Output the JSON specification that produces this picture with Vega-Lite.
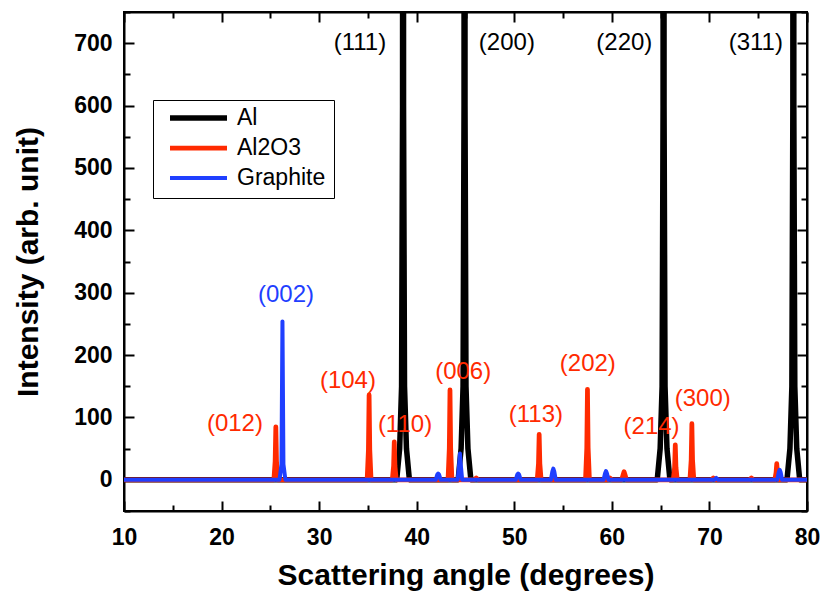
{
  "$schema": "https://vega.github.io/schema/vega-lite/v6.json",
  "width": 683,
  "height": 499,
  "autosize": {"type": "none"},
  "padding": {"left": 124, "top": 12, "right": 15, "bottom": 89},
  "background": "white",
  "config": {
    "view": {"stroke": "black", "strokeWidth": 2},
    "axis": {
      "grid": false,
      "domainColor": "black",
      "domainWidth": 2,
      "tickColor": "black",
      "tickWidth": 2,
      "labelFont": "Liberation Sans",
      "labelFontWeight": "bold",
      "labelFontSize": 23,
      "labelColor": "black",
      "labelOverlap": false,
      "labelFlush": false,
      "titleFont": "Liberation Sans",
      "titleFontWeight": "bold",
      "titleFontSize": 30,
      "titleColor": "black"
    },
    "legend": {
      "orient": "none",
      "legendX": 29,
      "legendY": 88,
      "strokeColor": "black",
      "strokeWidth": 1,
      "fillColor": "white",
      "padding": 8,
      "symbolType": "stroke",
      "symbolSize": 3249,
      "symbolStrokeWidth": 4,
      "symbolOffset": 6,
      "labelOffset": 7,
      "labelFont": "Liberation Sans",
      "labelFontSize": 23,
      "labelColor": "black",
      "clipHeight": 20,
      "rowPadding": 7
    }
  },
  "datasets": {
    "xrd": [
      {"series": "Al", "angle": 10, "intensity": 0},
      {"series": "Al", "angle": 37.95, "intensity": 0},
      {"series": "Al", "angle": 38.25, "intensity": 50},
      {"series": "Al", "angle": 38.45, "intensity": 150},
      {"series": "Al", "angle": 38.55, "intensity": 600},
      {"series": "Al", "angle": 38.6, "intensity": 5000},
      {"series": "Al", "angle": 38.65, "intensity": 600},
      {"series": "Al", "angle": 38.75, "intensity": 150},
      {"series": "Al", "angle": 38.95, "intensity": 50},
      {"series": "Al", "angle": 39.25, "intensity": 0},
      {"series": "Al", "angle": 44.25, "intensity": 0},
      {"series": "Al", "angle": 44.55, "intensity": 50},
      {"series": "Al", "angle": 44.75, "intensity": 150},
      {"series": "Al", "angle": 44.85, "intensity": 600},
      {"series": "Al", "angle": 44.9, "intensity": 5000},
      {"series": "Al", "angle": 44.95, "intensity": 600},
      {"series": "Al", "angle": 45.05, "intensity": 150},
      {"series": "Al", "angle": 45.25, "intensity": 50},
      {"series": "Al", "angle": 45.55, "intensity": 0},
      {"series": "Al", "angle": 64.65, "intensity": 0},
      {"series": "Al", "angle": 64.95, "intensity": 50},
      {"series": "Al", "angle": 65.15, "intensity": 150},
      {"series": "Al", "angle": 65.25, "intensity": 600},
      {"series": "Al", "angle": 65.3, "intensity": 5000},
      {"series": "Al", "angle": 65.35, "intensity": 600},
      {"series": "Al", "angle": 65.45, "intensity": 150},
      {"series": "Al", "angle": 65.65, "intensity": 50},
      {"series": "Al", "angle": 65.95, "intensity": 0},
      {"series": "Al", "angle": 77.95, "intensity": 0},
      {"series": "Al", "angle": 78.25, "intensity": 50},
      {"series": "Al", "angle": 78.45, "intensity": 150},
      {"series": "Al", "angle": 78.55, "intensity": 600},
      {"series": "Al", "angle": 78.6, "intensity": 5000},
      {"series": "Al", "angle": 78.65, "intensity": 600},
      {"series": "Al", "angle": 78.75, "intensity": 150},
      {"series": "Al", "angle": 78.95, "intensity": 50},
      {"series": "Al", "angle": 79.25, "intensity": 0},
      {"series": "Al", "angle": 80, "intensity": 0},

      {"series": "Al2O3", "angle": 10, "intensity": 0},
      {"series": "Al2O3", "angle": 25.36, "intensity": 0},
      {"series": "Al2O3", "angle": 25.49, "intensity": 30},
      {"series": "Al2O3", "angle": 25.56, "intensity": 85},
      {"series": "Al2O3", "angle": 25.63, "intensity": 30},
      {"series": "Al2O3", "angle": 25.76, "intensity": 0},
      {"series": "Al2O3", "angle": 34.92, "intensity": 0},
      {"series": "Al2O3", "angle": 35.05, "intensity": 48},
      {"series": "Al2O3", "angle": 35.12, "intensity": 136},
      {"series": "Al2O3", "angle": 35.19, "intensity": 48},
      {"series": "Al2O3", "angle": 35.32, "intensity": 0},
      {"series": "Al2O3", "angle": 37.5, "intensity": 0},
      {"series": "Al2O3", "angle": 37.63, "intensity": 22},
      {"series": "Al2O3", "angle": 37.7, "intensity": 61},
      {"series": "Al2O3", "angle": 37.77, "intensity": 22},
      {"series": "Al2O3", "angle": 37.9, "intensity": 0},
      {"series": "Al2O3", "angle": 43.21, "intensity": 0},
      {"series": "Al2O3", "angle": 43.34, "intensity": 51},
      {"series": "Al2O3", "angle": 43.41, "intensity": 144},
      {"series": "Al2O3", "angle": 43.48, "intensity": 51},
      {"series": "Al2O3", "angle": 43.61, "intensity": 0},
      {"series": "Al2O3", "angle": 45.9, "intensity": 0},
      {"series": "Al2O3", "angle": 46.1, "intensity": 3},
      {"series": "Al2O3", "angle": 46.3, "intensity": 0},
      {"series": "Al2O3", "angle": 52.35, "intensity": 0},
      {"series": "Al2O3", "angle": 52.48, "intensity": 26},
      {"series": "Al2O3", "angle": 52.55, "intensity": 73},
      {"series": "Al2O3", "angle": 52.62, "intensity": 26},
      {"series": "Al2O3", "angle": 52.75, "intensity": 0},
      {"series": "Al2O3", "angle": 57.3, "intensity": 0},
      {"series": "Al2O3", "angle": 57.43, "intensity": 51},
      {"series": "Al2O3", "angle": 57.5, "intensity": 145},
      {"series": "Al2O3", "angle": 57.57, "intensity": 51},
      {"series": "Al2O3", "angle": 57.7, "intensity": 0},
      {"series": "Al2O3", "angle": 59.6, "intensity": 0},
      {"series": "Al2O3", "angle": 59.8, "intensity": 3},
      {"series": "Al2O3", "angle": 60.0, "intensity": 0},
      {"series": "Al2O3", "angle": 61.0, "intensity": 0},
      {"series": "Al2O3", "angle": 61.15, "intensity": 8},
      {"series": "Al2O3", "angle": 61.25, "intensity": 13},
      {"series": "Al2O3", "angle": 61.35, "intensity": 8},
      {"series": "Al2O3", "angle": 61.5, "intensity": 0},
      {"series": "Al2O3", "angle": 66.3, "intensity": 0},
      {"series": "Al2O3", "angle": 66.43, "intensity": 20},
      {"series": "Al2O3", "angle": 66.5, "intensity": 56},
      {"series": "Al2O3", "angle": 66.57, "intensity": 20},
      {"series": "Al2O3", "angle": 66.7, "intensity": 0},
      {"series": "Al2O3", "angle": 68.0, "intensity": 0},
      {"series": "Al2O3", "angle": 68.13, "intensity": 32},
      {"series": "Al2O3", "angle": 68.2, "intensity": 90},
      {"series": "Al2O3", "angle": 68.27, "intensity": 32},
      {"series": "Al2O3", "angle": 68.4, "intensity": 0},
      {"series": "Al2O3", "angle": 70.2, "intensity": 0},
      {"series": "Al2O3", "angle": 70.4, "intensity": 3},
      {"series": "Al2O3", "angle": 70.6, "intensity": 0},
      {"series": "Al2O3", "angle": 74.1, "intensity": 0},
      {"series": "Al2O3", "angle": 74.3, "intensity": 3},
      {"series": "Al2O3", "angle": 74.5, "intensity": 0},
      {"series": "Al2O3", "angle": 76.7, "intensity": 0},
      {"series": "Al2O3", "angle": 76.83, "intensity": 12},
      {"series": "Al2O3", "angle": 76.9, "intensity": 26},
      {"series": "Al2O3", "angle": 76.97, "intensity": 12},
      {"series": "Al2O3", "angle": 77.1, "intensity": 0},
      {"series": "Al2O3", "angle": 80, "intensity": 0},

      {"series": "Graphite", "angle": 10, "intensity": 0},
      {"series": "Graphite", "angle": 25.94, "intensity": 0},
      {"series": "Graphite", "angle": 26.14, "intensity": 25},
      {"series": "Graphite", "angle": 26.24, "intensity": 254},
      {"series": "Graphite", "angle": 26.34, "intensity": 25},
      {"series": "Graphite", "angle": 26.54, "intensity": 0},
      {"series": "Graphite", "angle": 41.95, "intensity": 0},
      {"series": "Graphite", "angle": 42.1, "intensity": 8},
      {"series": "Graphite", "angle": 42.2, "intensity": 10},
      {"series": "Graphite", "angle": 42.3, "intensity": 8},
      {"series": "Graphite", "angle": 42.45, "intensity": 0},
      {"series": "Graphite", "angle": 44.2, "intensity": 0},
      {"series": "Graphite", "angle": 44.35, "intensity": 25},
      {"series": "Graphite", "angle": 44.43, "intensity": 42},
      {"series": "Graphite", "angle": 44.51, "intensity": 25},
      {"series": "Graphite", "angle": 44.66, "intensity": 0},
      {"series": "Graphite", "angle": 50.15, "intensity": 0},
      {"series": "Graphite", "angle": 50.3, "intensity": 8},
      {"series": "Graphite", "angle": 50.4, "intensity": 10},
      {"series": "Graphite", "angle": 50.5, "intensity": 8},
      {"series": "Graphite", "angle": 50.65, "intensity": 0},
      {"series": "Graphite", "angle": 53.75, "intensity": 0},
      {"series": "Graphite", "angle": 53.9, "intensity": 13},
      {"series": "Graphite", "angle": 54.0, "intensity": 18},
      {"series": "Graphite", "angle": 54.1, "intensity": 13},
      {"series": "Graphite", "angle": 54.25, "intensity": 0},
      {"series": "Graphite", "angle": 59.15, "intensity": 0},
      {"series": "Graphite", "angle": 59.3, "intensity": 10},
      {"series": "Graphite", "angle": 59.4, "intensity": 14},
      {"series": "Graphite", "angle": 59.5, "intensity": 10},
      {"series": "Graphite", "angle": 59.65, "intensity": 0},
      {"series": "Graphite", "angle": 70.5, "intensity": 0},
      {"series": "Graphite", "angle": 70.7, "intensity": 3},
      {"series": "Graphite", "angle": 70.9, "intensity": 0},
      {"series": "Graphite", "angle": 76.95, "intensity": 0},
      {"series": "Graphite", "angle": 77.1, "intensity": 12},
      {"series": "Graphite", "angle": 77.2, "intensity": 16},
      {"series": "Graphite", "angle": 77.3, "intensity": 12},
      {"series": "Graphite", "angle": 77.45, "intensity": 0},
      {"series": "Graphite", "angle": 80, "intensity": 0}
    ],
    "peaks": [
      {"series": "Al", "label": "(111)", "angle": 34.18, "intensity": 700},
      {"series": "Al", "label": "(200)", "angle": 49.24, "intensity": 700},
      {"series": "Al", "label": "(220)", "angle": 61.28, "intensity": 700},
      {"series": "Al", "label": "(311)", "angle": 74.75, "intensity": 700},
      {"series": "Graphite", "label": "(002)", "angle": 26.6, "intensity": 296},
      {"series": "Al2O3", "label": "(012)", "angle": 21.37, "intensity": 90},
      {"series": "Al2O3", "label": "(104)", "angle": 32.95, "intensity": 158},
      {"series": "Al2O3", "label": "(110)", "angle": 38.8, "intensity": 88},
      {"series": "Al2O3", "label": "(006)", "angle": 44.76, "intensity": 173},
      {"series": "Al2O3", "label": "(113)", "angle": 52.21, "intensity": 104},
      {"series": "Al2O3", "label": "(202)", "angle": 57.54, "intensity": 185},
      {"series": "Al2O3", "label": "(214)", "angle": 64.07, "intensity": 84},
      {"series": "Al2O3", "label": "(300)", "angle": 69.32, "intensity": 129}
    ]
  },
  "layer": [
    {
      "data": {"name": "xrd"},
      "mark": {"type": "line", "clip": true, "strokeJoin": "round"},
      "encoding": {
        "x": {
          "field": "angle",
          "type": "quantitative",
          "scale": {"domain": [10, 80], "nice": false, "zero": false},
          "axis": {
            "orient": "bottom",
            "title": "Scattering angle (degrees)",
            "values": [10, 15, 20, 25, 30, 35, 40, 45, 50, 55, 60, 65, 70, 75, 80],
            "labelExpr": "datum.value % 10 === 0 ? datum.label : ''",
            "tickSize": {"condition": {"test": "datum.value % 10 === 0", "value": -10}, "value": -6},
            "labelPadding": 25,
            "titleX": 341.5,
            "titleY": 64,
            "titleBaseline": "middle"
          }
        },
        "y": {
          "field": "intensity",
          "type": "quantitative",
          "scale": {"domain": [-50, 750], "nice": false, "zero": false},
          "axis": {
            "orient": "left",
            "title": "Intensity (arb. unit)",
            "values": [-50, 0, 50, 100, 150, 200, 250, 300, 350, 400, 450, 500, 550, 600, 650, 700, 750],
            "labelExpr": "datum.value % 100 === 0 && datum.value >= 0 ? datum.label : ''",
            "tickSize": {"condition": {"test": "datum.value % 100 === 0", "value": -10}, "value": -6},
            "labelPadding": 22,
            "titleX": -96,
            "titleBaseline": "middle"
          }
        },
        "color": {
          "field": "series",
          "type": "nominal",
          "scale": {"domain": ["Al", "Al2O3", "Graphite"], "range": ["#000000", "#FF2A00", "#1F3FFF"]},
          "legend": {"title": null}
        },
        "strokeWidth": {
          "field": "series",
          "type": "nominal",
          "scale": {"domain": ["Al", "Al2O3", "Graphite"], "range": [5.5, 4, 4]},
          "legend": null
        },
        "order": {"field": "angle", "type": "quantitative"}
      }
    },
    {
      "data": {"name": "peaks"},
      "mark": {"type": "text", "font": "Liberation Sans", "fontSize": 24, "align": "center", "baseline": "middle"},
      "encoding": {
        "x": {
          "field": "angle",
          "type": "quantitative",
          "scale": {"domain": [10, 80], "nice": false, "zero": false},
          "axis": {
            "orient": "top",
            "title": null,
            "labels": false,
            "values": [10, 15, 20, 25, 30, 35, 40, 45, 50, 55, 60, 65, 70, 75, 80],
            "tickSize": {"condition": {"test": "datum.value % 10 === 0", "value": -10}, "value": -6}
          }
        },
        "y": {
          "field": "intensity",
          "type": "quantitative",
          "scale": {"domain": [-50, 750], "nice": false, "zero": false},
          "axis": {
            "orient": "right",
            "title": null,
            "labels": false,
            "values": [-50, 0, 50, 100, 150, 200, 250, 300, 350, 400, 450, 500, 550, 600, 650, 700, 750],
            "tickSize": {"condition": {"test": "datum.value % 100 === 0", "value": -10}, "value": -6}
          }
        },
        "text": {"field": "label"},
        "color": {"field": "series", "type": "nominal", "legend": null}
      }
    }
  ],
  "resolve": {"axis": {"x": "independent", "y": "independent"}}
}
